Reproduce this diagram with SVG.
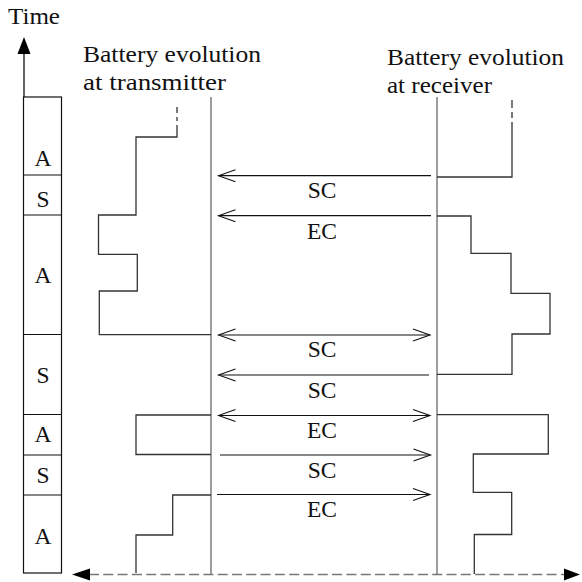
<svg xmlns="http://www.w3.org/2000/svg" width="582" height="582" viewBox="0 0 582 582">
<style>
text{font-family:"Liberation Serif","DejaVu Serif","Times New Roman",serif;font-size:23.5px;fill:#111}
.lbl{text-anchor:middle}
.box{fill:none;stroke:#111;stroke-width:1.2}
.axis{fill:none;stroke:#858585;stroke-width:1.6}
.stair{fill:none;stroke:#333;stroke-width:1.3}
.msg{fill:none;stroke:#111;stroke-width:1.2}
.dash{fill:none;stroke:#777;stroke-width:1.5;stroke-dasharray:10 4.3}
</style>
<defs>
<marker id="open" markerUnits="userSpaceOnUse" markerWidth="20" markerHeight="16" viewBox="-18 -8 20 16" refX="0" refY="0" orient="auto-start-reverse">
<path d="M-17,-6 L0,0 L-17,6" fill="none" stroke="#111" stroke-width="1.1"/>
</marker>
</defs>

<g id="time-axis">
<line x1="24" y1="97" x2="24" y2="54" stroke="#111" stroke-width="1.3"/>
<path d="M24,37 L17.5,54 L30.5,54 Z" fill="#000"/>
<text x="8" y="24" textLength="52" lengthAdjust="spacingAndGlyphs">Time</text>
</g>

<g id="time-bar">
<rect class="box" x="23.5" y="97" width="38" height="476"/>
<path class="box" d="M23.5,175 H61.5 M23.5,215 H61.5 M23.5,334.5 H61.5 M23.5,414.5 H61.5 M23.5,455 H61.5 M23.5,495 H61.5"/>
<text class="lbl" x="43" y="165.5">A</text>
<text class="lbl" x="43" y="206.5">S</text>
<text class="lbl" x="43" y="283">A</text>
<text class="lbl" x="43" y="383">S</text>
<text class="lbl" x="43" y="442">A</text>
<text class="lbl" x="43" y="482.5">S</text>
<text class="lbl" x="43" y="544">A</text>
</g>

<g id="transmitter">
<text x="83" y="61.5" textLength="178" lengthAdjust="spacingAndGlyphs">Battery evolution</text>
<text x="83" y="90" textLength="143" lengthAdjust="spacingAndGlyphs">at transmitter</text>
<line class="axis" x1="211" y1="97" x2="211" y2="574"/>
<path class="stair" d="M177,107 V113 M177,117 V121 M177,125 V137 H136 V215 H98.5 V254.3 H137.3 V291 H99.3 V334.7 H211"/>
<path class="stair" d="M211,415 H136 V454.5 H211"/>
<path class="stair" d="M211,495 H172.7 V535 H136 V573"/>
</g>

<g id="receiver">
<text x="387" y="64.5" textLength="177" lengthAdjust="spacingAndGlyphs">Battery evolution</text>
<text x="387" y="93" textLength="105" lengthAdjust="spacingAndGlyphs">at receiver</text>
<line class="axis" x1="437" y1="97" x2="437" y2="574"/>
<path class="stair" d="M512,100 V108 M512,112 V118 M512,122 V177 H437"/>
<path class="stair" d="M437,216 H471 V253.3 H511 V293.3 H550 V334 H512 V374.3 H437"/>
<path class="stair" d="M437,414.7 H548.3 V454 H473.3 V492.3 H511.7 V534.5 H474.3 V574"/>
</g>

<g id="connectors">
<line class="msg" x1="431" y1="175.7" x2="218.5" y2="175.7" marker-end="url(#open)"/>
<line class="msg" x1="431" y1="215.7" x2="218.5" y2="215.7" marker-end="url(#open)"/>
<line class="msg" x1="218.5" y1="335" x2="430" y2="335" marker-start="url(#open)" marker-end="url(#open)"/>
<line class="msg" x1="429" y1="375" x2="218.5" y2="375" marker-end="url(#open)"/>
<line class="msg" x1="218.5" y1="415.5" x2="430" y2="415.5" marker-start="url(#open)" marker-end="url(#open)"/>
<line class="msg" x1="220" y1="455" x2="430.5" y2="455" marker-end="url(#open)"/>
<line class="msg" x1="217" y1="494.5" x2="430" y2="494.5" marker-end="url(#open)"/>
<line class="dash" x1="89" y1="574.5" x2="566" y2="574.5"/>
<path d="M72,574.5 L90,568.5 L90,580.5 Z" fill="#000"/>
<path d="M580,574.5 L564,568.5 L564,580.5 Z" fill="#000"/>
</g>

<g id="labels">
<text class="lbl" x="322" y="197.5">SC</text>
<text class="lbl" x="322" y="238.5">EC</text>
<text class="lbl" x="322" y="357">SC</text>
<text class="lbl" x="322" y="397.5">SC</text>
<text class="lbl" x="322" y="438">EC</text>
<text class="lbl" x="322" y="477.5">SC</text>
<text class="lbl" x="322" y="516.5">EC</text>
</g>
</svg>
